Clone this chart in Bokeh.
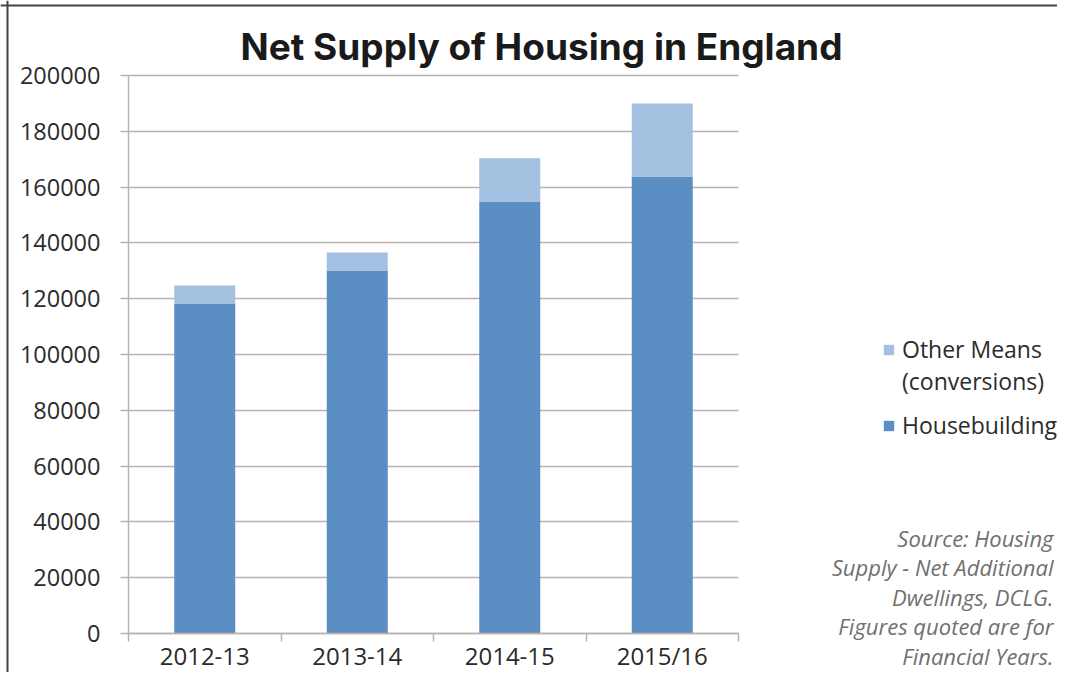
from bokeh.plotting import figure
from bokeh.models import (Range1d, FixedTicker, NumeralTickFormatter, Legend, LegendItem,
                          Label, ColumnDataSource, Span, Grid)
from bokeh.embed import file_html
from bokeh.resources import INLINE

# ---- data ----
years = ["2012-13", "2013-14", "2014-15", "2015/16"]
housebuilding = [118300, 130100, 154800, 163800]
other_means = [6400, 6500, 15500, 26200]
y_ticks = [0, 20000, 40000, 60000, 80000, 100000, 120000, 140000, 160000, 180000, 200000]
title_text = "Net Supply of Housing in England"
legend_other = ["Other Means", "(conversions)"]
legend_house = "Housebuilding"
source_lines = ["Source: Housing", "Supply - Net Additional", "Dwellings, DCLG.",
                "Figures quoted are for", "Financial Years."]

DARK = "#5b8fc4"
LIGHT = "#a3c0e0"
GRID = "#bcb1ae"
TXT = "#2b2b2b"

W, H = 1057, 672
# plot area geometry (pixels)
PL, PR, PT, PB = 128, 738, 75, 633
n = len(years)
ux = (PR - PL) / n                      # px per category
uy = (PB - PT) / y_ticks[-1]            # px per unit

def dx(px):
    return 0.5 + (px - PL) / ux

def dy(py):
    return (PB - py) / uy

xpos = [i + 1 for i in range(n)]
src = ColumnDataSource(dict(x=xpos, hb=housebuilding, om=other_means,
                            tot=[a + b for a, b in zip(housebuilding, other_means)]))

p = figure(width=W, height=H, output_backend="svg", toolbar_location=None,
           x_range=Range1d(dx(0), dx(W)), y_range=Range1d(dy(H), dy(0)),
           min_border=0, min_border_left=0, min_border_right=0,
           min_border_top=0, min_border_bottom=0)
p.outline_line_color = None
p.background_fill_color = "white"
p.border_fill_color = "white"

# grid lines limited to the plot area
p.xgrid.grid_line_color = None
p.ygrid.ticker = FixedTicker(ticks=y_ticks)
p.ygrid.grid_line_color = GRID
p.ygrid.grid_line_width = 1.5
if "cross_bounds" in Grid.properties():
    p.ygrid.cross_bounds = (0.5, n + 0.5)
else:
    p.ygrid.grid_line_color = None
    p.segment(x0=[0.5] * len(y_ticks), x1=[n + 0.5] * len(y_ticks), y0=y_ticks, y1=y_ticks,
              line_color=GRID, line_width=1.5)

r_hb = p.vbar(x="x", bottom=0, top="hb", width=0.4, source=src, fill_color=DARK, line_color=None)
r_om = p.vbar(x="x", bottom="hb", top="tot", width=0.4, source=src, fill_color=LIGHT, line_color=None)
# transparent stand-in so the second legend line carries no swatch
r_blank = p.vbar(x=[], bottom=[], top=[], width=0.4, fill_alpha=0, line_alpha=0)

# y axis
p.yaxis.fixed_location = 0.5
p.yaxis.bounds = (0, y_ticks[-1])
p.yaxis.ticker = FixedTicker(ticks=y_ticks)
p.yaxis.formatter = NumeralTickFormatter(format="0")
p.yaxis.axis_line_color = GRID
p.yaxis.axis_line_width = 1.5
p.yaxis.major_tick_line_color = GRID
p.yaxis.major_tick_line_width = 1.5
p.yaxis.major_tick_out = 8
p.yaxis.major_tick_in = 0
p.yaxis.minor_tick_line_color = None
p.yaxis.major_label_standoff = 20
p.yaxis.major_label_text_font = "Open Sans"
p.yaxis.major_label_text_font_size = "23.5px"
p.yaxis.major_label_text_color = TXT

# x axis
p.xaxis.fixed_location = 0
p.xaxis.bounds = (0.5, n + 0.5)
p.xaxis.ticker = FixedTicker(ticks=xpos, minor_ticks=[0.5 + i for i in range(n + 1)])
p.xaxis.major_label_overrides = {x: y for x, y in zip(xpos, years)}
p.xaxis.axis_line_color = GRID
p.xaxis.axis_line_width = 1.5
p.xaxis.major_tick_line_color = None
p.xaxis.minor_tick_line_color = GRID
p.xaxis.minor_tick_line_width = 1.5
p.xaxis.minor_tick_out = 8
p.xaxis.minor_tick_in = 0
p.xaxis.major_label_standoff = -3
p.xaxis.major_label_text_font = "Open Sans"
p.xaxis.major_label_text_font_size = "24px"
p.xaxis.major_label_text_color = TXT

# legends
def make_legend(items, loc):
    lg = Legend(items=items, location=loc, orientation="vertical")
    lg.border_line_color = None
    lg.background_fill_alpha = 0
    lg.padding = 0
    lg.margin = 0
    lg.glyph_width = 13
    lg.glyph_height = 13
    lg.label_standoff = 7
    lg.spacing = 0
    lg.label_height = 30
    lg.label_text_font = "Open Sans"
    lg.label_text_font_size = "23px"
    lg.label_text_color = TXT
    p.add_layout(lg, "center")
    return lg

make_legend([LegendItem(label=legend_other[0], renderers=[r_om]),
             LegendItem(label=legend_other[1], renderers=[r_blank])], (882, H - 397))
make_legend([LegendItem(label=legend_house, renderers=[r_hb])], (882, H - 441))

# frame border (left and top edges of the card)
p.add_layout(Span(location=dx(7), dimension="height", line_color="#444444", line_width=2))
p.add_layout(Span(location=dy(5), dimension="width", line_color="#444444", line_width=2))

# title
p.add_layout(Label(x=541, y=H - 46, x_units="screen", y_units="screen", text=title_text,
                   text_font="Inter", text_font_style="bold", text_font_size="37px",
                   text_color="#1a1a1a", text_align="center", text_baseline="middle"))

# source note
src_y = [537, 566.5, 596, 625.5, 655]
for t, yy in zip(source_lines, src_y):
    p.add_layout(Label(x=1053, y=H - yy, x_units="screen", y_units="screen", text=t,
                       text_font="Open Sans", text_font_style="italic", text_font_size="22px",
                       text_color="#707070", text_align="right", text_baseline="middle"))

open("out.html", "w").write(file_html(p, INLINE))
